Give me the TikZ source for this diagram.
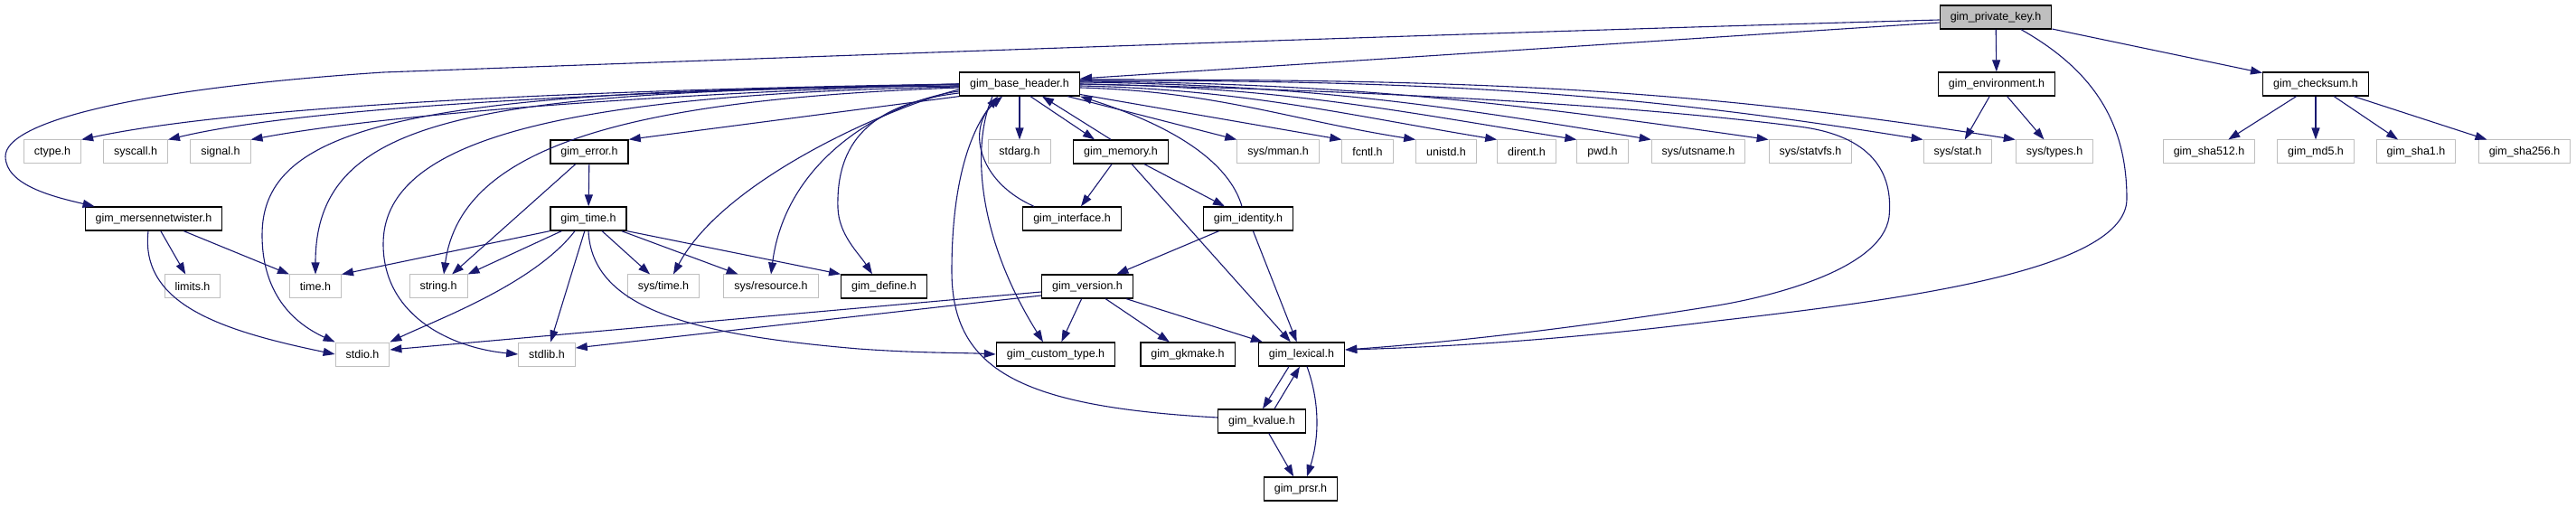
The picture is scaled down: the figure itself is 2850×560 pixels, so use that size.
\documentclass[tikz,border=0pt]{standalone}
\usepackage{fontspec}
\newfontfamily\graphfont{Liberation Sans}
\usepackage{tikz}
\usetikzlibrary{arrows.meta}
\definecolor{edgeblue}{HTML}{191970}
\definecolor{sysgray}{HTML}{BFBFBF}

\begin{document}
\begin{tikzpicture}[x=1pt, y=1pt,
    header/.style={rectangle, draw=black, line width=1.3pt, fill=white, font=\graphfont\fontsize{12.5}{14}\selectfont, inner xsep=11.5pt, inner ysep=0pt, minimum height=26pt},
    syshead/.style={header, draw=sysgray, line width=1pt},
    rootnode/.style={header, fill=sysgray},
    line/.style={draw=edgeblue, line width=1.1pt, -{Triangle[length=13pt, width=9pt]}}]

    \useasboundingbox (0,0) rectangle (2850,560);

    % Top rows - the file and its direct includes
    \node [rootnode] (privkey) at (2208,541) {gim\_private\_key.h};
    \node [header] (base) at (1128,467) {gim\_base\_header.h};
    \node [header] (environ) at (2209,467) {gim\_environment.h};
    \node [header] (checksum) at (2562,467) {gim\_checksum.h};

    % Second row - system headers and first level
    \node [syshead] (ctype) at (58,392) {ctype.h};
    \node [syshead] (syscall) at (150,392) {syscall.h};
    \node [syshead] (signal) at (244,392) {signal.h};
    \node [header] (error) at (652,392) {gim\_error.h};
    \node [syshead] (stdarg) at (1128,392) {stdarg.h};
    \node [header] (memory) at (1240,392) {gim\_memory.h};
    \node [syshead] (mman) at (1414,392) {sys/mman.h};
    \node [syshead] (fcntl) at (1513,392) {fcntl.h};
    \node [syshead] (unistd) at (1600,392) {unistd.h};
    \node [syshead] (dirent) at (1689,392) {dirent.h};
    \node [syshead] (pwd) at (1773,392) {pwd.h};
    \node [syshead] (utsname) at (1879,392) {sys/utsname.h};
    \node [syshead] (statvfs) at (2003,392) {sys/statvfs.h};
    \node [syshead] (sysstat) at (2166,392) {sys/stat.h};
    \node [syshead] (systypes) at (2273,392) {sys/types.h};
    \node [syshead] (sha512) at (2444,392) {gim\_sha512.h};
    \node [syshead] (md5) at (2562,392) {gim\_md5.h};
    \node [syshead] (sha1) at (2673,392) {gim\_sha1.h};
    \node [syshead] (sha256) at (2793,392) {gim\_sha256.h};

    % Middle rows
    \node [header] (mersenne) at (170,318) {gim\_mersennetwister.h};
    \node [header] (gimtime) at (651,318) {gim\_time.h};
    \node [header] (interface) at (1186,318) {gim\_interface.h};
    \node [header] (identity) at (1381,318) {gim\_identity.h};

    \node [syshead] (limits) at (213,243) {limits.h};
    \node [syshead] (timeh) at (349,243) {time.h};
    \node [syshead] (string) at (485,243) {string.h};
    \node [syshead] (systime) at (734,243) {sys/time.h};
    \node [syshead] (resource) at (853,243) {sys/resource.h};
    \node [header] (define) at (978,243) {gim\_define.h};
    \node [header] (version) at (1203,243) {gim\_version.h};

    % Bottom rows
    \node [syshead] (stdio) at (401,168) {stdio.h};
    \node [syshead] (stdlib) at (605,168) {stdlib.h};
    \node [header] (custom) at (1168,168) {gim\_custom\_type.h};
    \node [header] (gkmake) at (1314,168) {gim\_gkmake.h};
    \node [header] (lexical) at (1440,168) {gim\_lexical.h};
    \node [header] (kvalue) at (1396,94) {gim\_kvalue.h};
    \node [header] (prsr) at (1439,19) {gim\_prsr.h};

    % gim_private_key.h
    \path [line] ([yshift=-6pt]privkey.west) -- ([yshift=6pt]base.east);
    \path [line] ([yshift=-3pt]privkey.west) .. controls (1500,520) and (700,490) .. (424,480) .. controls (150,462) and (6,425) .. (6,387) .. controls (6,355) and (60,342) .. ([xshift=11pt]mersenne.north west);
    \path [line] (privkey) -- (environ);
    \path [line] (privkey) -- (checksum);
    \path [line] ([xshift=28pt]privkey.south) .. controls (2320,480) and (2353,420) .. (2353,340) .. controls (2353,260) and (2100,228) .. (1900,205) .. controls (1700,180) and (1560,175) .. ([yshift=5pt]lexical.east);

    % gim_environment.h and gim_checksum.h
    \path [line] (environ) -- (sysstat);
    \path [line] (environ) -- (systypes);
    \path [line] (checksum) -- (sha512);
    \path [line] (checksum) -- (md5);
    \path [line] (checksum) -- (sha1);
    \path [line] (checksum) -- (sha256);

    % gim_base_header.h - to the left
    \path [line] (base.west) .. controls (600,460) and (250,440) .. (ctype.north east);
    \path [line] (base.west) .. controls (650,458) and (330,440) .. (syscall.north east);
    \path [line] (base.west) .. controls (700,455) and (420,432) .. (signal.north east);
    \path [line] (base.south west) -- (error.north east);
    \path [line] ([yshift=-2pt]base.west) .. controls (450,462) and (290,420) .. (290,300) .. controls (290,230) and (330,200) .. (stdio.north west);
    \path [line] ([yshift=-2pt]base.west) .. controls (520,460) and (349,430) .. (timeh.north);
    \path [line] ([yshift=-3pt]base.west) .. controls (600,455) and (424,400) .. (424,290) .. controls (424,210) and (500,175) .. (stdlib.west);
    \path [line] ([yshift=-4pt]base.west) .. controls (700,450) and (510,400) .. ([xshift=6pt]string.north);
    \path [line] ([yshift=-6pt]base.west) .. controls (980,440) and (800,360) .. ([xshift=11pt]systime.north);
    \path [line] ([yshift=-8pt]base.west) .. controls (990,450) and (870,390) .. (resource.north);
    \path [line] ([yshift=-10pt]base.west) .. controls (960,445) and (925,400) .. (927,330) .. controls (928,300) and (950,280) .. ([xshift=-13pt]define.north);

    % gim_base_header.h - below
    \path [line] (base) -- (stdarg);
    \path [line] ([xshift=12pt]base.south) -- ([xshift=-29pt]memory.north);
    \path [line] ([xshift=-30pt]base.south) .. controls (1075,400) and (1080,300) .. ([xshift=-14pt]custom.north);

    % gim_base_header.h - to the right
    \path [line] (base) -- (mman.north west);
    \path [line] (base) -- (fcntl.north west);
    \path [line] ([yshift=-4pt]base.east) .. controls +(150,-4) and +(-140,22) .. (unistd.north west);
    \path [line] ([yshift=-2pt]base.east) .. controls +(180,-4) and +(-170,28) .. (dirent.north west);
    \path [line] (base.east) .. controls +(220,-3) and +(-200,32) .. (pwd.north west);
    \path [line] ([yshift=2pt]base.east) .. controls +(250,-3) and +(-230,38) .. (utsname.north west);
    \path [line] ([yshift=3pt]base.east) .. controls +(300,-2) and +(-280,40) .. (statvfs.north west);
    \path [line] ([yshift=4pt]base.east) .. controls +(370,0) and +(-340,55) .. (sysstat.north west);
    \path [line] ([yshift=5pt]base.east) .. controls +(410,0) and +(-380,60) .. (systypes.north west);
    \path [line] (base.east) .. controls (1600,458) and (1850,438) .. (1990,420) .. controls (2070,410) and (2095,370) .. (2090,320) .. controls (2082,262) and (1960,232) .. (1900,222) .. controls (1700,190) and (1560,178) .. ([yshift=5pt]lexical.east);

    % back to gim_base_header.h
    \path [line] ([xshift=-11pt]memory.north) -- ([xshift=25pt]base.south);
    \path [line] ([xshift=-42pt]interface.north) .. controls (1080,360) and (1070,420) .. ([xshift=-19pt]base.south);
    \path [line] ([xshift=-7pt]identity.north) .. controls (1360,380) and (1300,420) .. (base.south east);
    \path [line] ([yshift=4pt]kvalue.west) .. controls (1130,110) and (1053,150) .. (1053,260) .. controls (1053,350) and (1070,410) .. ([xshift=-24pt]base.south);

    % gim_memory.h and gim_identity.h
    \path [line] (memory) -- (interface);
    \path [line] (memory) -- (identity);
    \path [line] (memory) -- (lexical);
    \path [line] (identity) -- (version);
    \path [line] (identity) -- (lexical);

    % gim_version.h
    \path [line] ([yshift=-6pt]version.west) -- ([yshift=5pt]stdio.east);
    \path [line] ([yshift=-10pt]version.west) -- ([yshift=7pt]stdlib.east);
    \path [line] (version) -- (custom);
    \path [line] (version) -- (gkmake);
    \path [line] (version) -- (lexical);

    % gim_error.h and gim_time.h
    \path [line] (error) -- (gimtime);
    \path [line] (error) -- (string);
    \path [line] (gimtime.south west) -- (timeh.north east);
    \path [line] (gimtime) -- (string.north east);
    \path [line] ([xshift=-15pt]gimtime.south) .. controls (590,245) and (480,205) .. (stdio.north east);
    \path [line] (gimtime) -- (stdlib);
    \path [line] (gimtime) -- (systime);
    \path [line] (gimtime) -- (resource);
    \path [line] (gimtime.south east) -- (define.north west);
    \path [line] (gimtime.south) .. controls (655,220) and (760,190) .. (950,174) .. controls (1020,169) and (1060,170) .. (custom.west);

    % gim_mersennetwister.h
    \path [line] (mersenne) -- (limits);
    \path [line] (mersenne) -- (timeh.north west);
    \path [line] ([xshift=-6pt]mersenne.south) .. controls (155,225) and (240,195) .. (stdio.west);

    % gim_lexical.h and gim_kvalue.h
    \path [line] ([xshift=-14pt]lexical.south) -- ([xshift=1pt]kvalue.north);
    \path [line] ([xshift=14pt]kvalue.north) -- ([xshift=-2pt]lexical.south);
    \path [line] ([xshift=6pt]lexical.south) .. controls (1462,110) and (1458,70) .. ([xshift=7pt]prsr.north);
    \path [line] (kvalue) -- (prsr);
\end{tikzpicture}
\end{document}
